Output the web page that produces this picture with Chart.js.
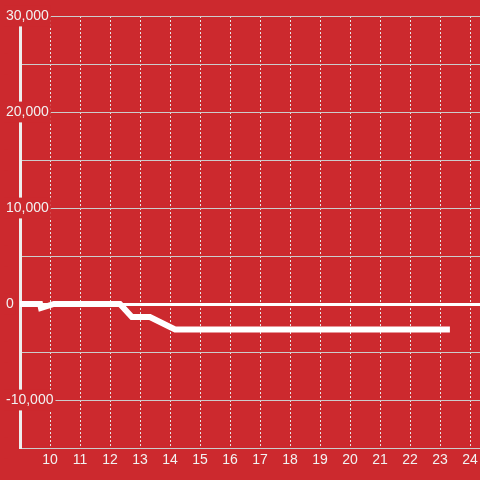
<!DOCTYPE html>
<html>
<head>
<meta charset="utf-8">
<script src="https://cdn.jsdelivr.net/npm/chart.js@4"></script>
<style>
  html, body { margin: 0; padding: 0; background: #cc292e; }
  #wrap { width: 480px; height: 480px; }
</style>
</head>
<body>
<div id="wrap"><canvas id="c" width="480" height="480"></canvas></div>
<script>
// Data
const xValues = [8.93, 9.67, 9.7, 10.13, 12.33, 12.73, 13.33, 14.17, 23.33];
const yValues = [0, 0, -420, 0, 0, -1350, -1350, -2650, -2650];
const xTicks = [10, 11, 12, 13, 14, 15, 16, 17, 18, 19, 20, 21, 22, 23, 24];
const yTickLabels = [30000, 20000, 10000, 0, -10000];

const BG = '#cc292e';
const FONT = "'Liberation Sans', Arial, sans-serif";

const points = xValues.map((x, i) => ({ x: x, y: yValues[i] }));

new Chart(document.getElementById('c'), {
  type: 'line',
  data: {
    datasets: [{
      data: points,
      borderColor: '#ffffff',
      borderWidth: 6,
      pointRadius: 0,
      pointHoverRadius: 0,
      tension: 0,
      fill: false,
      borderCapStyle: 'butt',
      borderJoinStyle: 'miter'
    }]
  },
  options: {
    responsive: false,
    animation: false,
    events: [],
    layout: { padding: { top: 16, left: 6, right: 0, bottom: 0 } },
    plugins: { legend: { display: false }, tooltip: { enabled: false } },
    scales: {
      x: {
        type: 'linear',
        min: 9,
        max: 24.3333,
        afterFit: s => { s.height = 32; s.paddingLeft = 0; s.paddingRight = 0; },
        border: { display: false, dash: [2, 2] },
        grid: { color: '#e6e6e6', lineWidth: 1, drawTicks: false },
        ticks: {
          stepSize: 1,
          includeBounds: false,
          autoSkip: false,
          maxRotation: 0,
          padding: 4,
          color: '#f2f2f2',
          font: { size: 14, family: FONT },
          callback: v => xTicks.includes(v) ? String(v) : ''
        }
      },
      y: {
        min: -15000,
        max: 30000,
        afterFit: s => { s.width = 14; s.paddingTop = 0; s.paddingBottom = 0; },
        border: { display: true, color: '#eeeeee', width: 3 },
        grid: {
          color: ctx => (ctx.tick && ctx.tick.value === 0) ? '#ffffff' : '#cccccc',
          lineWidth: ctx => (ctx.tick && ctx.tick.value === 0) ? 3 : 1,
          drawTicks: false
        },
        ticks: {
          stepSize: 5000,
          mirror: true,
          crossAlign: 'near',
          padding: -14,
          color: '#f2f2f2',
          font: { size: 14, family: FONT },
          showLabelBackdrop: true,
          backdropColor: BG,
          backdropPadding: 2,
          callback: v => yTickLabels.includes(v) ? v.toLocaleString('en-US') : ''
        }
      }
    }
  }
});
</script>
</body>
</html>
